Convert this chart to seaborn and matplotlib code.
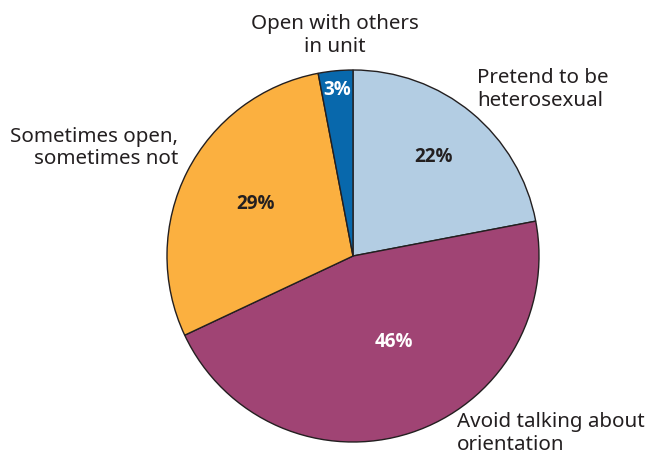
import numpy as np
import matplotlib
matplotlib.use("Agg")
import matplotlib.pyplot as plt
import seaborn as sns

# Share of respondents by how they handle their orientation in the unit
categories = ["Pretend to be\nheterosexual", "Avoid talking about\norientation",
              "Sometimes open,\nsometimes not", "Open with others\nin unit"]
shares = [22, 46, 29, 3]
colors = ["#b3cde3", "#a04474", "#fbb040", "#0868ac"]
pct_colors = ["#231f20", "white", "#231f20", "white"]

sns.set_theme(style="white")
plt.rcParams["font.family"] = ["Noto Sans", "DejaVu Sans"]

W, H = 656, 458
fig = plt.figure(figsize=(W / 100, H / 100), dpi=100)
cx, cy, r = 353, 256, 186
ax = fig.add_axes([(cx - r) / W, (H - cy - r) / H, 2 * r / W, 2 * r / H])

wedges, _ = ax.pie(shares, colors=colors, startangle=90, counterclock=False,
                   wedgeprops=dict(edgecolor="#231f20", linewidth=1.0))
ax.set_xlim(-1, 1)
ax.set_ylim(-1, 1)
ax.axis("off")

# Percent labels inside each wedge (positions in pie radius units)
pct_pos = [(0.435, 0.532), (0.22, -0.462), (-0.524, 0.28), (-0.083, 0.892)]
for s, (x, y), c in zip(shares, pct_pos, pct_colors):
    ax.text(x, y, f"{s}%", ha="center", va="center", fontsize=13.5,
            fontweight="bold", color=c, family=["Open Sans", "DejaVu Sans"])

# Category labels outside the pie
label_pos = [(0.667, 0.895, "left"), (0.557, -0.955, "left"),
             (-0.94, 0.58, "right"), (-0.097, 1.185, "center")]
for name, (x, y, ha) in zip(categories, label_pos):
    ax.text(x, y, name, ha=ha, va="center", multialignment=ha, fontsize=14.8,
            color="#231f20", linespacing=1.18, clip_on=False)

fig.savefig("out.png", dpi=100, facecolor="white")
